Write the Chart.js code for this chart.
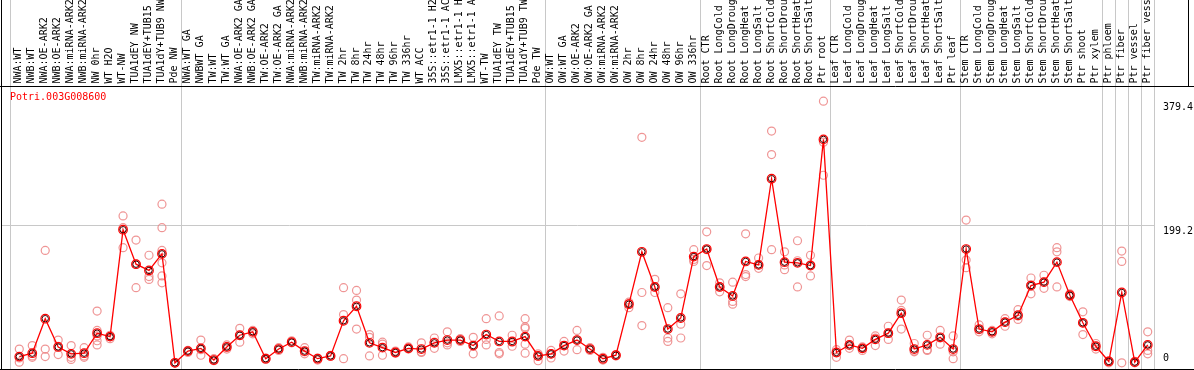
<!DOCTYPE html>
<html><head><meta charset="utf-8">
<script src="https://cdn.jsdelivr.net/npm/chart.js@4.4.1/dist/chart.umd.min.js"></script>
<style>html,body{margin:0;padding:0;background:#fff;overflow:hidden}#wrap{width:1194px;height:370px;position:relative}</style>
</head><body><div id="wrap"><canvas id="c" width="1194" height="370"></canvas></div>
<script>
const categories = [
 'NWA:WT','NWB:WT','NWA:OE-ARK2','NWB:OE-ARK2','NWA:miRNA-ARK2','NWB:miRNA-ARK2','NW 0hr','WT H2O','WT-NW',
 'TUA1dEY NW','TUA1dEY+TUB15 ','TUA1dY+TUB9 NW','Pde NW',
 'NWA:WT GA','NWBWT GA','TW:WT','TW:WT GA','NWA:OE-ARK2 GA','NWB:OE-ARK2 GA','TW:OE-ARK2','TW:OE-ARK2 GA',
 'NWA:miRNA-ARK2','NWB:miRNA-ARK2','TW:miRNA-ARK2','TW:miRNA-ARK2','TW 2hr','TW 8hr','TW 24hr','TW 48hr','TW 96hr','TW 336hr',
 'WT ACC','35S::etr1-1 H2','35S::etr1-1 AC','LMX5::etr1-1 H','LMX5::etr1-1 A','WT-TW','TUA1dEY TW','TUA1dEY+TUB15 ','TUA1dY+TUB9 TW','Pde TW',
 'OW:WT','OW:WT GA','OW:OE-ARK2','OW:OE-ARK2 GA','OW:miRNA-ARK2','OW:miRNA-ARK2','OW 2hr','OW 8hr','OW 24hr','OW 48hr','OW 96hr','OW 336hr',
 'Root CTR','Root LongCold','Root LongDroug','Root LongHeat','Root LongSalt','Root ShortCold','Root ShortDrou','Root ShortHeat','Root ShortSalt','Ptr root',
 'Leaf CTR','Leaf LongCold','Leaf LongDroug','Leaf LongHeat','Leaf LongSalt','Leaf ShortCold','Leaf ShortDrou','Leaf ShortHeat','Leaf ShortSalt','Ptr leaf',
 'Stem CTR','Stem LongCold','Stem LongDroug','Stem LongHeat','Stem LongSalt','Stem ShortCold','Stem ShortDrou','Stem ShortHeat','Stem ShortSalt','Ptr shoot',
 'Ptr xylem','Ptr phloem','Ptr fiber','Ptr vessel','Ptr fiber vess'
];
const meanValues = [
 9,14,64,23,13,14,43,38,193,143,134,158,0,
 17,21,4,23,40,45,6,20,30,17,6,10,61,82,29,22,15,21,20,29,33,33,25,41,31,31,38,10,
 13,25,33,20,6,11,85,161,110,49,65,154,
 165,110,97,147,142,267,146,145,141,324,
 15,26,21,34,43,72,20,26,37,20,
 165,49,45,59,69,112,117,146,98,58,
 24,2,102,1,26
];
const replicateValues = [
 [20,7,1],[25,10,8],[163,20,9],[33,24,12],[25,8,5],[22,10,8],[75,47,39,32,26],[40,38,35],[213,196,167],
 [178,143,109],[156,125,121],[230,196,163,145,126,116],[0,0,0],
 [18,17,15],[33,19,11],[6,4,3],[26,23,20],[50,40,30],[47,45,42],[7,6,5],[22,20,18],
 [32,30,29],[22,16,13],[7,6,4],[11,10,10],[109,70,6],[105,91,49],[41,37,10],[30,27,11],[17,15,14],[23,21,20],
 [29,16,15],[36,30,21],[45,29,26],[35,33,31],[37,25,13],[64,34,26],[68,15,13],[40,30,24],[64,52,50,27,14],[13,10,3],
 [18,13,7],[31,25,17],[47,33,19],[22,20,18],[8,5,4],[12,11,10],[88,86,80],[327,102,54],[121,110,102],[80,36,31],[100,56,36],[164,150,147],
 [190,164,141],[116,110,103],[117,89,85],[187,128,125],[152,142,137],[336,302,164],[161,142,135],[177,148,110],[156,142,126],[379.4,320,272],
 [19,15,8],[33,25,21],[23,21,18],[39,36,25],[53,43,34],[91,76,49],[28,17,16],[40,19,18],[47,36,27],[39,16,6],
 [207,149,138],[55,48,45],[47,45,42],[64,59,53],[77,68,63],[123,113,100],[127,117,108],[167,161,110],[100,98,96],[74,58,41],
 [28,24,20],[3,2,0],[162,147,0],[2,1,0],[45,18,13]
];
const yTickValues = [379.4, 199.2, 0];
const yGridValues = [199.2];
const boundaryPositions = [-0.7, 12.5, 40.5, 52.5, 62.5, 72.5, 83.5, 84.5, 85.5, 86.5, 87.5];
const geneTitle = 'Potri.003G008600';

const meanPoints = meanValues.map((v, i) => ({x: i, y: v}));
const repPoints = [];
replicateValues.forEach((arr, i) => arr.forEach(v => repPoints.push({x: i, y: v})));

const FONT = '10px "DejaVu Sans Mono", "Liberation Mono", monospace';

const decor = {
  id: 'decor',
  beforeDatasetsDraw(chart) {
    const ctx = chart.ctx, xs = chart.scales.x, ys = chart.scales.y;
    const W = chart.width, H = chart.height;
    ctx.save();
    ctx.lineWidth = 1;
    ctx.strokeStyle = '#c8c8c8';
    const rightEdge = Math.round(xs.getPixelForValue(87.5)) + 0.5;
    yGridValues.forEach(v => {
      const y = Math.round(ys.getPixelForValue(v)) + 0.5;
      ctx.beginPath(); ctx.moveTo(1, y); ctx.lineTo(rightEdge, y); ctx.stroke();
    });
    boundaryPositions.forEach(b => {
      const x = Math.round(xs.getPixelForValue(b)) + 0.5;
      ctx.beginPath(); ctx.moveTo(x, 0); ctx.lineTo(x, H); ctx.stroke();
    });
    ctx.strokeStyle = '#000';
    ctx.beginPath();
    ctx.moveTo(1.5, 0); ctx.lineTo(1.5, H);
    ctx.moveTo(0, 86.5); ctx.lineTo(W, 86.5);
    ctx.moveTo(1188.5, 0); ctx.lineTo(1188.5, 86);
    ctx.moveTo(0, 369.5); ctx.lineTo(W, 369.5);
    ctx.stroke();
    ctx.restore();
  },
  afterDatasetsDraw(chart) {
    const ctx = chart.ctx, xs = chart.scales.x, ys = chart.scales.y;
    ctx.save();
    ctx.font = FONT;
    ctx.fillStyle = '#000';
    categories.forEach((lab, i) => {
      const x = xs.getPixelForValue(i);
      ctx.save();
      ctx.translate(Math.round(x) - 0.5, 83.5);
      ctx.rotate(-Math.PI / 2);
      ctx.textAlign = 'left';
      ctx.textBaseline = 'middle';
      ctx.fillText(lab, 0, 0);
      ctx.restore();
    });
    ctx.textAlign = 'left';
    yTickValues.forEach(v => {
      const y = ys.getPixelForValue(v);
      if (v === 0) { ctx.textBaseline = 'bottom'; ctx.fillText(String(v), 1163, y + 1); }
      else { ctx.textBaseline = 'top'; ctx.fillText(String(v), 1163, y + 1); }
    });
    ctx.fillStyle = '#ff0000';
    ctx.textBaseline = 'middle';
    ctx.fillText(geneTitle, 10, 97);
    ctx.restore();
  }
};

new Chart(document.getElementById('c'), {
  data: {
    datasets: [
      {
        type: 'scatter', label: 'replicates', data: repPoints, showLine: false,
        pointStyle: 'circle', pointRadius: 4, pointHoverRadius: 4,
        borderColor: 'rgba(236,130,130,0.85)', backgroundColor: 'rgba(0,0,0,0)', pointBorderWidth: 1.2,
        clip: false, order: 3
      },
      {
        type: 'line', label: 'mean', data: meanPoints,
        borderColor: '#ff0000', borderWidth: 1.3, tension: 0,
        pointStyle: 'circle', pointRadius: 4.3, pointHoverRadius: 4.3,
        pointBorderColor: '#ff0000', pointBackgroundColor: 'rgba(0,0,0,0)', pointBorderWidth: 1.2,
        clip: false, order: 2
      },
      {
        type: 'scatter', label: 'mean ring', data: meanPoints, showLine: false,
        pointStyle: 'circle', pointRadius: 3.2, pointHoverRadius: 3.2,
        borderColor: '#3a0000', backgroundColor: 'rgba(0,0,0,0)', pointBorderWidth: 1,
        clip: false, order: 1
      }
    ]
  },
  options: {
    responsive: false, animation: false, devicePixelRatio: 1,
    layout: {padding: {left: 12.8, right: 39.8, top: 86, bottom: 1}},
    scales: {
      x: {type: 'linear', min: -0.5, max: 87.5, display: false},
      y: {type: 'linear', min: -2.43, max: 401.4, display: false}
    },
    plugins: {legend: {display: false}, tooltip: {enabled: false}, title: {display: false}}
  },
  plugins: [decor]
});
</script></body></html>
